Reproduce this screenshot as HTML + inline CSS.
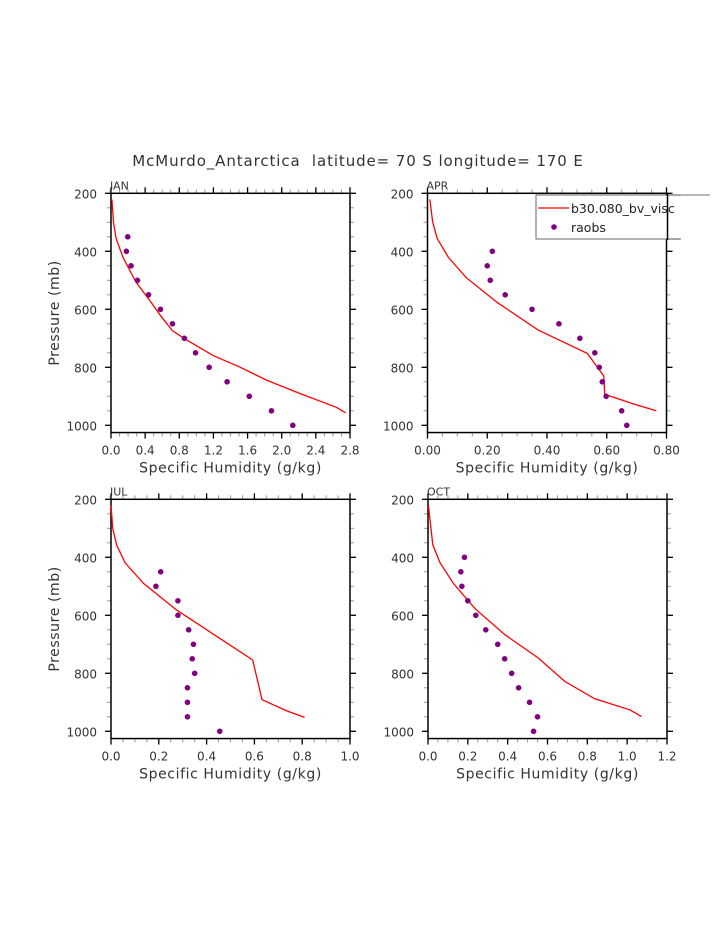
<!DOCTYPE html>
<html><head><meta charset="utf-8"><style>
html,body{margin:0;padding:0;background:#fff;}
svg{display:block;font-family:"DejaVu Sans","Liberation Sans",sans-serif;}
</style></head><body>
<svg id="chart" width="723" height="935" viewBox="0 0 723 935">
<text x="358" y="166" font-size="15" text-anchor="middle" fill="#333" letter-spacing="0.9" style="white-space:pre">McMurdo_Antarctica  latitude= 70 S longitude= 170 E</text>
</svg>
<script>
const janModelQ=[0.01,0.03,0.06,0.14,0.29,0.45,0.59,0.72,0.87,1.2,1.5,1.82,2.21,2.64,2.75];
const janModelP=[221,303,355,421,505,568,626,674,703,760,798,844,890,938,957];
const janObsQ=[0.196,0.18,0.235,0.31,0.44,0.58,0.72,0.86,0.99,1.15,1.36,1.62,1.88,2.13];
const janObsP=[350,400,450,500,550,600,650,700,750,800,850,900,950,1000];
const aprModelQ=[0.008,0.017,0.032,0.07,0.13,0.234,0.37,0.535,0.59,0.593,0.694,0.766];
const aprModelP=[221,298,355,421,491,577,671,752,830,893,928,950];
const aprObsQ=[0.217,0.20,0.21,0.26,0.35,0.44,0.51,0.56,0.575,0.585,0.598,0.65,0.667];
const aprObsP=[400,450,500,550,600,650,700,750,800,850,900,950,1000];
const julModelQ=[0.0,0.007,0.024,0.059,0.136,0.275,0.45,0.593,0.632,0.737,0.81];
const julModelP=[220,300,358,419,490,582,677,754,891,930,952];
const julObsQ=[0.208,0.188,0.28,0.28,0.325,0.345,0.34,0.35,0.32,0.32,0.32,0.455];
const julObsP=[450,500,550,600,650,700,750,800,850,900,950,1000];
const octModelQ=[0.002,0.024,0.06,0.127,0.236,0.386,0.553,0.687,0.837,1.013,1.072];
const octModelP=[221,357,418,490,577,667,747,828,888,926,949];
const octObsQ=[0.183,0.165,0.17,0.2,0.24,0.29,0.35,0.385,0.42,0.455,0.51,0.55,0.53];
const octObsP=[400,450,500,550,600,650,700,750,800,850,900,950,1000];
const janXTicks=["0.0","0.4","0.8","1.2","1.6","2.0","2.4","2.8"];
const aprXTicks=["0.00","0.20","0.40","0.60","0.80"];
const julXTicks=["0.0","0.2","0.4","0.6","0.8","1.0"];
const octXTicks=["0.0","0.2","0.4","0.6","0.8","1.0","1.2"];
const yTicks=[200,400,600,800,1000];

const NS="http://www.w3.org/2000/svg";
const svg=document.getElementById('chart');
function mk(tag,attrs,parent){const e=document.createElementNS(NS,tag);for(const k in attrs)e.setAttribute(k,attrs[k]);(parent||svg).appendChild(e);return e;}

function panel(o){
  const L=o.x0,R=o.x0+239,T=o.y0,B=o.y0+825*0.29;
  const xmax=o.xmax;
  const xs=q=>L+q/xmax*(R-L);
  const ys=p=>T+(p-200)*0.29;
  const g=mk('g',{});
  
  
  for(let v=0;v<=xmax+1e-9;v+=o.minor){
    const x=xs(v);
    const t=mk('line',{x1:x,x2:x,y1:B,y2:B+4,stroke:'#999','stroke-width':1},g);
    
    const t2=mk('line',{x1:x,x2:x,y1:T,y2:T-4,stroke:'#999','stroke-width':1},g);
    
  }
  for(let p=200;p<=1025;p+=50){
    const y=ys(p);
    const t=mk('line',{x1:L-4,x2:L,y1:y,y2:y,stroke:'#999','stroke-width':1},g);
    
    const t2=mk('line',{x1:R,x2:R+4,y1:y,y2:y,stroke:'#999','stroke-width':1},g);
    
  }
  o.xt.forEach(lbl=>{
    const x=xs(parseFloat(lbl));
    const t=mk('line',{x1:x,x2:x,y1:B,y2:B+6,stroke:'#000','stroke-width':1.3},g);
    
    const t2=mk('line',{x1:x,x2:x,y1:T,y2:T-6,stroke:'#000','stroke-width':1.3},g);
    
    const tx=mk('text',{x:x,y:B+22,'font-size':12,'text-anchor':'middle',fill:'#333'},g);
    tx.textContent=lbl;
    
  });
  yTicks.forEach(p=>{
    const y=ys(p);
    const t=mk('line',{x1:L-6,x2:L,y1:y,y2:y,stroke:'#000','stroke-width':1.3},g);
    
    const t2=mk('line',{x1:R,x2:R+6,y1:y,y2:y,stroke:'#000','stroke-width':1.3},g);
    
    const tx=mk('text',{x:L-14,y:y+5,'font-size':12,'text-anchor':'end',fill:'#333'},g);
    tx.textContent=p;
    
  });
  const box=mk('rect',{x:L,y:T,width:R-L,height:B-T,fill:'none',stroke:'#000','stroke-width':1.5},g);
  
  const ttl=mk('text',{x:L-1,y:T-4,'font-size':11,fill:'#333'},g);
  ttl.textContent=o.title;
  
  const xl=mk('text',{x:(L+R)/2,y:B+40,'font-size':14,'text-anchor':'middle',fill:'#333','letter-spacing':0.6},g);
  xl.textContent='Specific Humidity (g/kg)';
  
  if(o.ylab){
    const yl=mk('text',{x:0,y:0,'font-size':14,'text-anchor':'middle',fill:'#333','letter-spacing':0.6,transform:`translate(59,${(T+B)/2}) rotate(-90)`},g);
    yl.textContent='Pressure (mb)';
    
  }
  const pts=o.mq.map((q,i)=>xs(q).toFixed(1)+','+ys(o.mp[i]).toFixed(1)).join(' ');
  const line=mk('polyline',{points:pts,fill:'none',stroke:'#f00','stroke-width':1.3},g);
  
  o.oq.forEach((q,i)=>{
    const c=mk('circle',{cx:xs(q),cy:ys(o.op[i]),r:2.8,fill:'#800080'},g);
    
  });
}
panel({id:'jan',title:'JAN',x0:111,y0:193.3,xmax:2.8,minor:0.1,xt:janXTicks,mq:janModelQ,mp:janModelP,oq:janObsQ,op:janObsP,ylab:true});
panel({id:'apr',title:'APR',x0:427.5,y0:193.3,xmax:0.8,minor:0.05,xt:aprXTicks,mq:aprModelQ,mp:aprModelP,oq:aprObsQ,op:aprObsP,ylab:false});
panel({id:'jul',title:'JUL',x0:111,y0:499.3,xmax:1.0,minor:0.05,xt:julXTicks,mq:julModelQ,mp:julModelP,oq:julObsQ,op:julObsP,ylab:true});
panel({id:'oct',title:'OCT',x0:428,y0:499.3,xmax:1.2,minor:0.05,xt:octXTicks,mq:octModelQ,mp:octModelP,oq:octObsQ,op:octObsP,ylab:false});

const lg=mk('g',{});


mk('rect',{x:536,y:195,width:160,height:44,fill:'#fff',stroke:'#444','stroke-width':0.8},lg);
const ll=mk('line',{x1:538,x2:569,y1:208,y2:208,stroke:'#f00','stroke-width':1.3},lg);

const lt=mk('text',{x:571,y:213,'font-size':12.5,fill:'#222'},lg);
lt.textContent='b30.080_bv_visc';

const lc=mk('circle',{cx:554,cy:227,r:2.8,fill:'#800080'},lg);

const lt2=mk('text',{x:571,y:232,'font-size':12.5,fill:'#222'},lg);
lt2.textContent='raobs';

mk('rect',{x:681,y:190,width:42,height:55,fill:'#fff'},lg);
mk('line',{x1:667,x2:710,y1:195,y2:195,stroke:'#444','stroke-width':0.8},lg);
mk('line',{x1:667,x2:680,y1:239,y2:239,stroke:'#444','stroke-width':0.8},lg);
mk('line',{x1:667.5,x2:667.5,y1:193,y2:240,stroke:'#000','stroke-width':1.5},lg);
</script>
</body></html>
